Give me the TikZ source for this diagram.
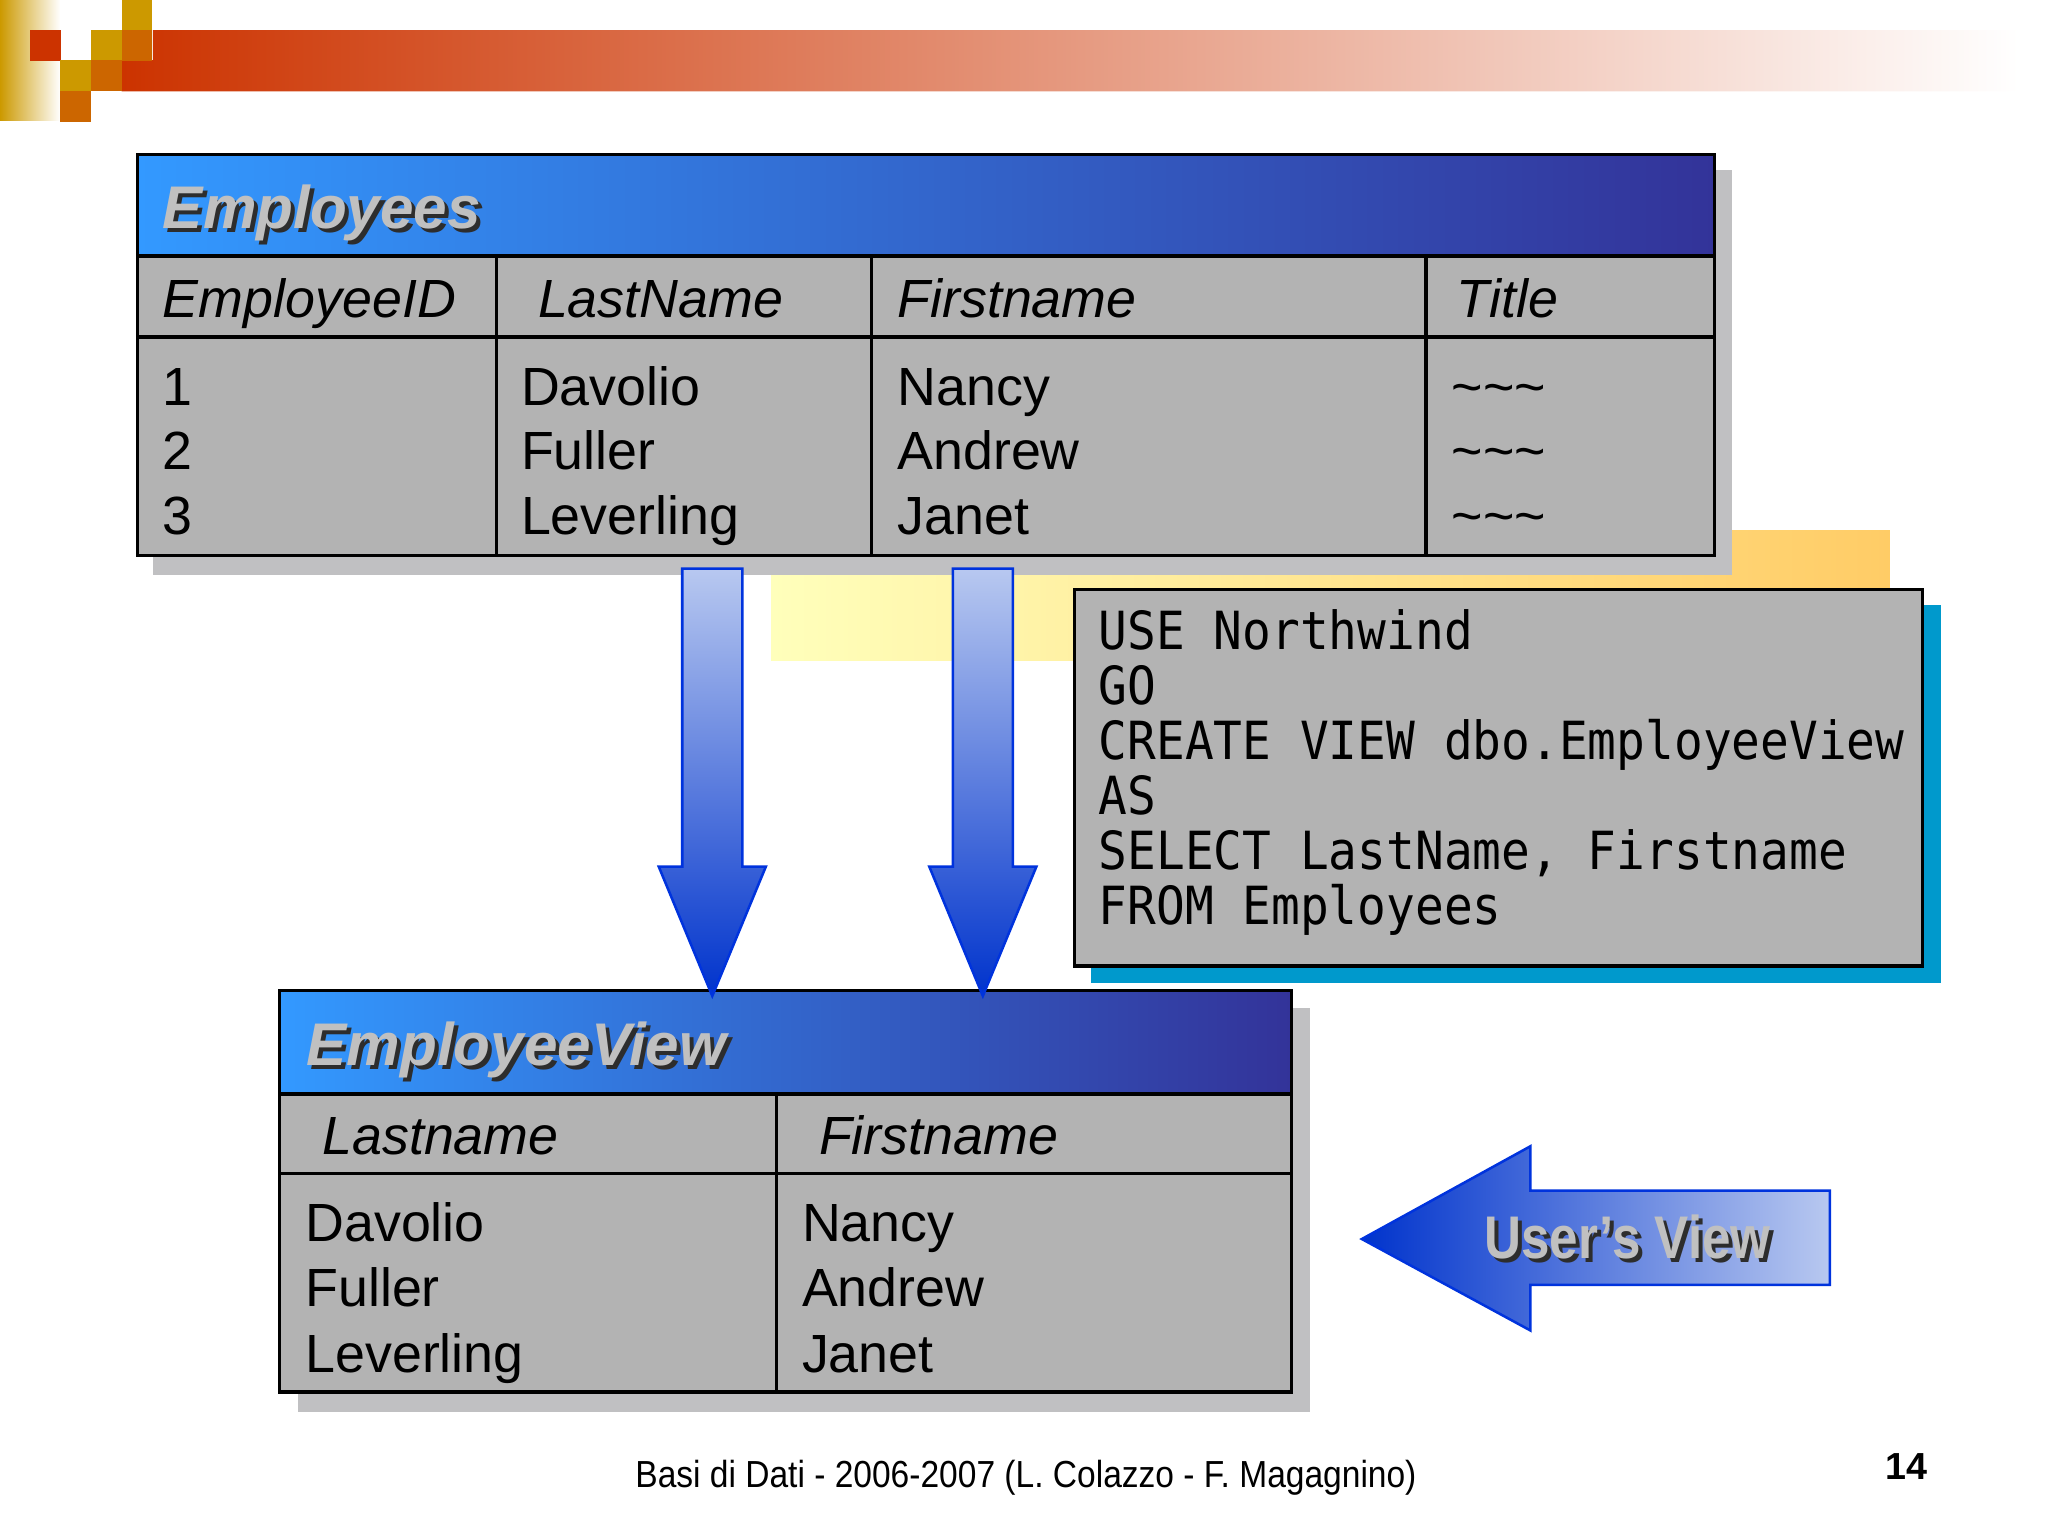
\documentclass[tikz,border=0pt]{standalone}
\usepackage{fontspec}
\setmainfont{Liberation Sans}
\newfontfamily\sqlfont{DejaVu Sans Mono}
\usepackage{graphicx}

\definecolor{hdrlight}{RGB}{51,153,255}
\definecolor{hdrmid}{RGB}{51,119,214}
\definecolor{hdrdark}{RGB}{51,51,153}
\definecolor{cellgray}{RGB}{179,179,179}
\definecolor{shadowgray}{RGB}{192,192,194}
\definecolor{sqlshadow}{RGB}{0,153,204}
\definecolor{notelight}{RGB}{255,255,187}
\definecolor{notedark}{RGB}{255,204,102}
\definecolor{arrowlight}{RGB}{184,200,240}
\definecolor{arrowmid}{RGB}{135,150,226}
\definecolor{arrowdark}{RGB}{0,51,204}
\definecolor{arrowline}{RGB}{0,51,221}
\definecolor{bandred}{RGB}{204,51,0}
\definecolor{sqgold}{RGB}{204,153,0}
\definecolor{sqorange}{RGB}{204,102,0}
\definecolor{titlegray}{RGB}{192,192,192}
\definecolor{titleshade}{RGB}{45,45,45}

\newcommand{\tabfont}{\fontsize{11.7pt}{14pt}\selectfont}
\newcommand{\titlefont}{\fontsize{13.1pt}{15pt}\selectfont\bfseries\itshape}
\newcommand{\codefont}{\sqlfont\fontsize{10.4pt}{12pt}\selectfont}
\newcommand{\footfont}{\fontsize{8.2pt}{10pt}\selectfont}

\tikzset{
    tabline/.style={line width=0.75pt, black},
    blockarrow/.style={draw=arrowline, line width=0.55pt},
    cell/.style={anchor=base west, inner sep=0pt, font=\tabfont},
    colhead/.style={cell, font=\tabfont\itshape},
    tabtitle/.style={anchor=base west, inner sep=0pt, font=\titlefont, text=titlegray},
    tabtitleshadow/.style={tabtitle, text=titleshade},
    codeline/.style={anchor=base west, inner sep=0pt, font=\codefont}
}

\begin{document}
\begin{tikzpicture}[x=0.01cm, y=-0.01cm]
    \useasboundingbox (0,0) rectangle (1567,1175);

    % Slide decoration: gold fade, squares and red band
    \shade[left color=sqgold, right color=white] (0,0) rectangle (46,92);
    \shade[left color=bandred, right color=white]
        (117,23) -- (1545,23) -- (1545,70) -- (93,70) -- (93,46) -- (117,46) -- cycle;
    \foreach \cx/\cy/\col in {23/23/bandred, 70/23/sqgold, 93/0/sqgold, 93/23/sqorange,
                             46/46/sqgold, 70/46/sqorange, 46/70/sqorange} {
        \fill[\col] (\cx,\cy) rectangle ++(23.4,23.4);
    }

    % Note behind the code box
    \shade[left color=notelight, right color=notedark] (590,406) rectangle (1446,505);

    % Table Employees
    \fill[shadowgray] (117,130) rectangle (1325,440);
    \shade[left color=hdrlight, middle color=hdrmid, right color=hdrdark] (105,118) rectangle (1312,196);
    \fill[cellgray] (105,196) rectangle (1312,425);
    \draw[tabline] (105,118) rectangle (1312,425);
    \draw[tabline] (105,196) -- (1312,196);
    \draw[tabline] (105,258) -- (1312,258);
    \foreach \x in {380, 667, 1091} {
        \draw[tabline] (\x,196) -- (\x,425);
    }

    \node[tabtitleshadow] (empnameshadow) at (127,178) {Employees};
    \node[tabtitle] (empname) at (124,175) {Employees};

    % Column names
    \foreach \x/\col [count=\i] in {124/EmployeeID, 411/LastName, 686/Firstname, 1114/Title} {
        \node[colhead] (empcol\i) at (\x,243) {\col};
    }

    % Rows
    \foreach \y/\id/\last/\first [count=\i] in {310/1/Davolio/Nancy, 359/2/Fuller/Andrew, 409/3/Leverling/Janet} {
        \node[cell] (empid\i) at (124,\y) {\id};
        \node[cell] (emplast\i) at (398,\y) {\last};
        \node[cell] (empfirst\i) at (686,\y) {\first};
        \node[cell] (emprole\i) at (1110,\y) {\textasciitilde\textasciitilde\textasciitilde};
    }

    % Code box
    \fill[sqlshadow] (835,463) rectangle (1485,752);
    \draw[tabline, fill=cellgray] (822,451) rectangle (1471,739);
    \foreach \line [count=\i] in {USE Northwind, GO, CREATE VIEW dbo.EmployeeView, AS,
                                  {SELECT LastName, Firstname}, FROM Employees} {
        \node[codeline] (sql\i) at (840,{497+(\i-1)*42}) {\scalebox{1}[1.1]{\line}};
    }

    % Table EmployeeView
    \fill[shadowgray] (228,771) rectangle (1002,1080);
    \shade[left color=hdrlight, middle color=hdrmid, right color=hdrdark] (214,758) rectangle (988,837);
    \fill[cellgray] (214,837) rectangle (988,1065);
    \draw[tabline] (214,758) rectangle (988,1065);
    \draw[tabline] (214,837) -- (988,837);
    \draw[tabline] (214,898) -- (988,898);
    \draw[tabline] (594,837) -- (594,1065);

    \node[tabtitleshadow] (viewnameshadow) at (237,818) {EmployeeView};
    \node[tabtitle] (viewname) at (234,815) {EmployeeView};

    \node[colhead] (viewcol1) at (246,883) {Lastname};
    \node[colhead] (viewcol2) at (626,883) {Firstname};

    \foreach \y/\last/\first [count=\i] in {950/Davolio/Nancy, 1000/Fuller/Andrew, 1050/Leverling/Janet} {
        \node[cell] (viewlast\i) at (233,\y) {\last};
        \node[cell] (viewfirst\i) at (613,\y) {\first};
    }

    % Arrows from Employees down to EmployeeView
    \foreach \ax in {545, 752} {
        \shade[top color=arrowlight, middle color=arrowmid, bottom color=arrowdark]
            (\ax-23,435) -- (\ax+23,435) -- (\ax+23,663) -- (\ax+41,663) -- (\ax,762)
            -- (\ax-41,663) -- (\ax-23,663) -- cycle;
        \draw[blockarrow]
            (\ax-23,435) -- (\ax+23,435) -- (\ax+23,663) -- (\ax+41,663) -- (\ax,762)
            -- (\ax-41,663) -- (\ax-23,663) -- cycle;
    }

    % User's View arrow
    \shade[left color=arrowdark, middle color=arrowmid, right color=arrowlight]
        (1042,948) -- (1171,877) -- (1171,911) -- (1400,911) -- (1400,983) -- (1171,983) -- (1171,1018) -- cycle;
    \draw[blockarrow]
        (1042,948) -- (1171,877) -- (1171,911) -- (1400,911) -- (1400,983) -- (1171,983) -- (1171,1018) -- cycle;
    \node[tabtitleshadow, font=\titlefont\upshape] (usershadow) at (1138,966) {\scalebox{0.85}[1]{User's View}};
    \node[tabtitle, font=\titlefont\upshape] (userview) at (1135,963) {\scalebox{0.85}[1]{User's View}};

    % Footer
    \node[anchor=base, inner sep=0pt] (footer) at (785,1138)
        {\footfont\scalebox{0.89}[1]{Basi di Dati - 2006-2007 (L. Colazzo - F. Magagnino)}};
    \node[anchor=base west, inner sep=0pt] (pagenum) at (1442,1132) {\footfont\bfseries 14};

\end{tikzpicture}
\end{document}
